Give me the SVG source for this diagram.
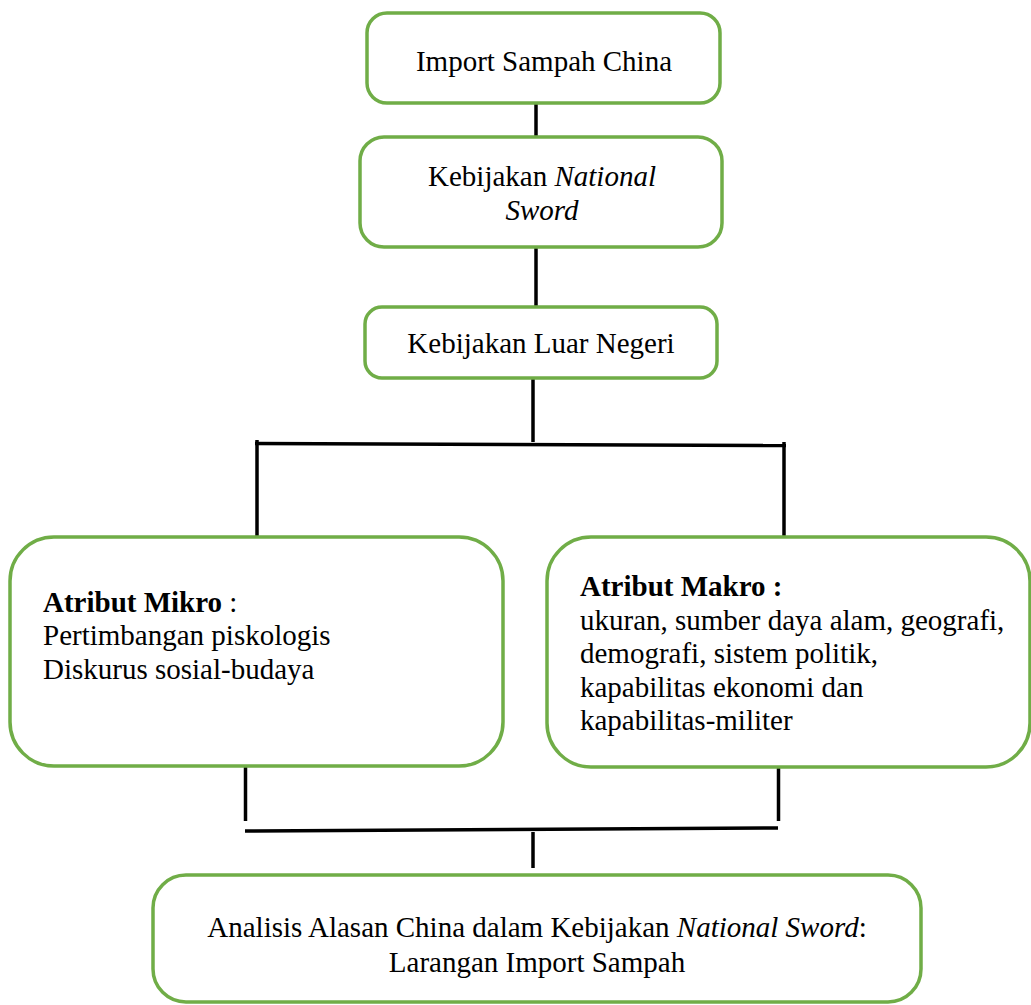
<svg xmlns="http://www.w3.org/2000/svg" width="1031" height="1005" viewBox="0 0 1031 1005">
<style>
.box{fill:#ffffff;stroke:#70AD47;stroke-width:3.5}
.t{font-family:"Liberation Serif","Times New Roman",serif;font-size:29px;fill:#000}
.c{text-anchor:middle}
.conn line{stroke:#000;stroke-width:3.5}
</style>
<rect width="1031" height="1005" fill="#ffffff"/>
<g id="connectors" class="conn">
<line x1="536" y1="103" x2="536" y2="138"/>
<line x1="536" y1="247" x2="536" y2="308"/>
<line x1="533" y1="377" x2="533" y2="442"/>
<line x1="255" y1="443.5" x2="786" y2="445.5"/>
<line x1="257" y1="440" x2="257" y2="537"/>
<line x1="784" y1="442" x2="784" y2="537"/>
<line x1="245.5" y1="759" x2="245.5" y2="821"/>
<line x1="778.5" y1="759" x2="778.5" y2="821"/>
<line x1="245" y1="831" x2="778" y2="828"/>
<line x1="533" y1="832" x2="533" y2="868"/>
</g>
<g id="node-import">
<rect class="box" x="367" y="13" width="353" height="90" rx="20"/>
<text class="t c" x="544" y="71">Import Sampah China</text>
</g>
<g id="node-national-sword">
<rect class="box" x="360" y="137" width="362" height="110" rx="24"/>
<text class="t c" x="542" y="186">Kebijakan <tspan font-style="italic">National</tspan></text>
<text class="t c" x="542" y="220" font-style="italic">Sword</text>
</g>
<g id="node-luar-negeri">
<rect class="box" x="365" y="307" width="352" height="71" rx="17"/>
<text class="t c" x="541" y="353">Kebijakan Luar Negeri</text>
</g>
<g id="node-mikro">
<rect class="box" x="10" y="537" width="493" height="229" rx="44"/>
<text class="t" x="43" y="612"><tspan font-weight="bold">Atribut Mikro</tspan> :</text>
<text class="t" x="43" y="645">Pertimbangan piskologis</text>
<text class="t" x="43" y="679">Diskurus sosial-budaya</text>
</g>
<g id="node-makro">
<rect class="box" x="547" y="537" width="483" height="230" rx="44"/>
<text class="t" x="580" y="596" font-weight="bold">Atribut Makro :</text>
<text class="t" x="580" y="630">ukuran, sumber daya alam, geografi,</text>
<text class="t" x="580" y="663">demografi, sistem politik,</text>
<text class="t" x="580" y="697">kapabilitas ekonomi dan</text>
<text class="t" x="580" y="730">kapabilitas-militer</text>
</g>
<g id="node-analisis">
<rect class="box" x="153" y="875" width="768" height="127" rx="33"/>
<text class="t c" x="537" y="937">Analisis Alasan China dalam Kebijakan <tspan font-style="italic">National Sword</tspan>:</text>
<text class="t c" x="537" y="972">Larangan Import Sampah</text>
</g>
</svg>
